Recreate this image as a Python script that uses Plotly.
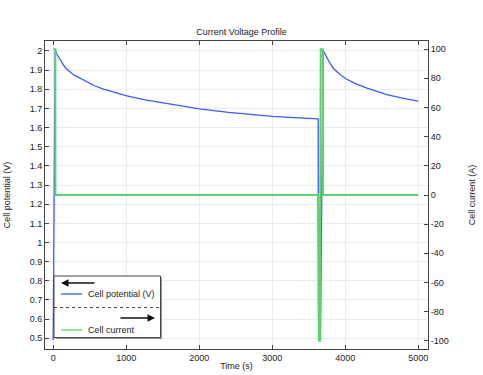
import plotly.graph_objects as go

# ---- data ----
time_v = [0, 22, 27, 50, 73, 96, 119, 145, 175, 210, 256, 300, 347, 460, 575, 690, 804, 1009, 1260, 1500,
          1717, 2005, 2402, 2700, 3009, 3300, 3630,
          3636, 3662, 3698, 3722, 3746, 3792, 3840, 3930, 4010, 4150, 4300, 4570, 4800, 5000]
cell_potential = [0.49, 1.99, 2.003, 1.984, 1.969, 1.952, 1.938, 1.924, 1.910, 1.896, 1.882, 1.871, 1.861,
                  1.838, 1.817, 1.801, 1.788, 1.766, 1.745, 1.729,
                  1.714, 1.698, 1.679, 1.668, 1.659, 1.652, 1.645,
                  0.49, 0.49, 2.003, 1.985, 1.969, 1.936, 1.908, 1.877, 1.855, 1.828, 1.806, 1.772, 1.752, 1.738]

time_i = [0, 30, 31, 3630, 3642, 3655, 3665, 3695, 3697, 5000]
cell_current = [100, 100, 0, 0, -100, -100, 100, 100, 0, 0]

y2_ticks = [-100, -80, -60, -40, -20, 0, 20, 40, 60, 80, 100]
y2_labels = ["-100", "-80", "-60", "-40", "-20", "0", "20", "40", "60", "80", "100"]

BLUE = "#3b5bff"
GREEN = "#5fcf72"
FONT = "Liberation Sans"
TXT = "#222"

fig = go.Figure()
fig.add_trace(go.Scatter(x=time_v, y=cell_potential, mode="lines", name="Cell potential (V)",
                         line=dict(color=BLUE, width=1.3), yaxis="y"))
fig.add_trace(go.Scatter(x=time_i, y=cell_current, mode="lines", name="Cell current",
                         line=dict(color=GREEN, width=2), yaxis="y2"))

W, H = 483, 375
L, R, T, B = 45, 428, 41, 349

def px(xp):
    return (xp - L) / (R - L)

def py(yp):
    return (B - yp) / (B - T)

axis_common = dict(showline=True, linecolor="#444", linewidth=1, ticks="inside", ticklen=4,
                   tickcolor="#444", tickfont=dict(family=FONT, size=9, color=TXT), zeroline=False,
                   automargin=False)

fig.update_layout(
    width=W, height=H,
    margin=dict(l=L, r=W - R, t=T, b=H - B),
    plot_bgcolor="white", paper_bgcolor="white",
    showlegend=False,
    font=dict(family=FONT, size=9, color=TXT),
    title=dict(text="Current Voltage Profile", x=0.5, xanchor="center",
               y=1 - 32 / H, yanchor="middle", yref="container",
               font=dict(family=FONT, size=9, color=TXT)),
    xaxis=dict(range=[-112, 5135], dtick=1000, tick0=0, showgrid=True, gridcolor="#ebebeb",
               mirror="ticks", title=dict(text="Time (s)", standoff=0, font=dict(size=9)),
               **axis_common),
    yaxis=dict(range=[0.444, 2.052], dtick=0.1, tick0=0.5, showgrid=True, gridcolor="#ebebeb",
               mirror=False, title=dict(text="Cell potential (V)", standoff=17, font=dict(size=9)),
               **axis_common),
    yaxis2=dict(range=[-105.6, 105.6], tickvals=y2_ticks, ticktext=y2_labels, overlaying="y",
                side="right", showgrid=False,
                title=dict(text="Cell current (A)", standoff=20, font=dict(size=9)),
                **axis_common),
)

# ---- manual legend ----
lx0, lx1, ly0, ly1 = 54, 160.5, 276, 337.5
shapes = [
    dict(type="rect", xref="paper", yref="paper", x0=px(lx0 + 1.5), x1=px(lx1 + 1.5),
         y0=py(ly1 + 1.5), y1=py(ly0 + 1.5), fillcolor="#999", line=dict(width=0), layer="above"),
    dict(type="rect", xref="paper", yref="paper", x0=px(lx0), x1=px(lx1), y0=py(ly1), y1=py(ly0),
         fillcolor="white", line=dict(color="#444", width=1), layer="above"),
    dict(type="line", xref="paper", yref="paper", x0=px(lx0), x1=px(lx1), y0=py(307.5), y1=py(307.5),
         line=dict(color="#444", width=1, dash="dot"), layer="above"),
    dict(type="line", xref="paper", yref="paper", x0=px(61), x1=px(82), y0=py(294), y1=py(294),
         line=dict(color=BLUE, width=1.3), layer="above"),
    dict(type="line", xref="paper", yref="paper", x0=px(61), x1=px(82), y0=py(330), y1=py(330),
         line=dict(color=GREEN, width=1.3), layer="above"),
]
fig.update_layout(shapes=shapes)

annotations = [
    dict(xref="paper", yref="paper", x=px(86), y=py(294), text="Cell potential (V)", showarrow=False,
         xanchor="left", yanchor="middle", font=dict(family=FONT, size=9, color=TXT)),
    dict(xref="paper", yref="paper", x=px(86), y=py(330), text="Cell current", showarrow=False,
         xanchor="left", yanchor="middle", font=dict(family=FONT, size=9, color=TXT)),
    # left arrow
    dict(xref="paper", yref="paper", x=px(61), y=py(283), ax=35, ay=0,
         axref="pixel", ayref="pixel", text="", showarrow=True, arrowhead=2, arrowsize=1,
         arrowwidth=1.5, arrowcolor="#111"),
    # right arrow
    dict(xref="paper", yref="paper", x=px(155), y=py(318), ax=-36, ay=0,
         axref="pixel", ayref="pixel", text="", showarrow=True, arrowhead=2, arrowsize=1,
         arrowwidth=1.5, arrowcolor="#111"),
]
fig.update_layout(annotations=annotations)

fig.write_html("out.html", config={"displayModeBar": False},
               post_script="document.body.style.margin='0';")
